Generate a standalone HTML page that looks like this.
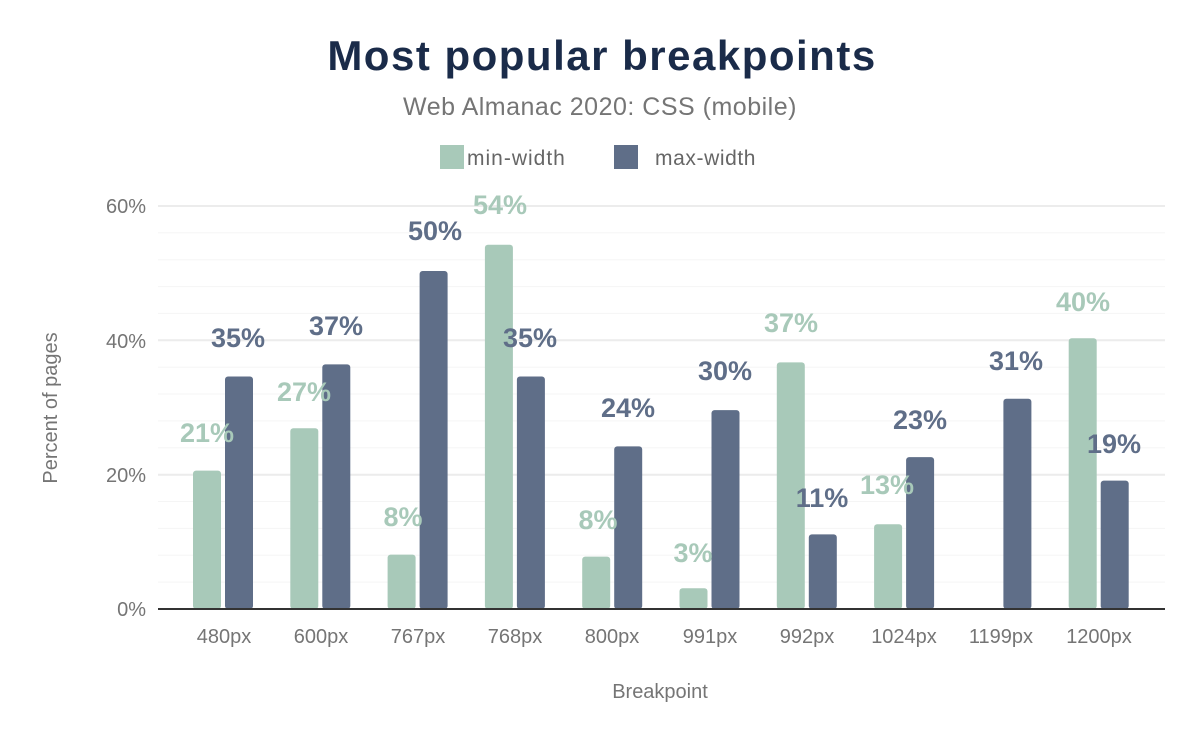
<!DOCTYPE html><html><head><style>body{margin:0;background:#fff}svg text{font-family:"Liberation Sans",sans-serif}</style></head><body>
<svg width="1200" height="742" xmlns="http://www.w3.org/2000/svg">
<text x="602" y="70" text-anchor="middle" font-size="42" font-weight="bold" fill="#1a2b49" letter-spacing="1.5">Most popular breakpoints</text>
<text x="600" y="115" text-anchor="middle" font-size="25" fill="#757575" letter-spacing="0.5">Web Almanac 2020: CSS (mobile)</text>
<rect x="440" y="145" width="24" height="24" fill="#a8c9b9"/><text x="467" y="165" font-size="21" fill="#666" letter-spacing="1">min-width</text>
<rect x="614" y="145" width="24" height="24" fill="#5f6e88"/><text x="655" y="165" font-size="21" fill="#666" letter-spacing="0.6">max-width</text>
<g stroke="#f5f5f5" stroke-width="1">
<line x1="158" x2="1165" y1="582.1" y2="582.1"/><line x1="158" x2="1165" y1="555.3" y2="555.3"/><line x1="158" x2="1165" y1="528.4" y2="528.4"/><line x1="158" x2="1165" y1="501.5" y2="501.5"/>
<line x1="158" x2="1165" y1="447.8" y2="447.8"/><line x1="158" x2="1165" y1="420.9" y2="420.9"/><line x1="158" x2="1165" y1="394" y2="394"/><line x1="158" x2="1165" y1="367.2" y2="367.2"/>
<line x1="158" x2="1165" y1="313.4" y2="313.4"/><line x1="158" x2="1165" y1="286.6" y2="286.6"/><line x1="158" x2="1165" y1="259.7" y2="259.7"/><line x1="158" x2="1165" y1="232.8" y2="232.8"/>
</g>
<g stroke="#ececec" stroke-width="2">
<line x1="158" x2="1165" y1="474.7" y2="474.7"/><line x1="158" x2="1165" y1="340.3" y2="340.3"/><line x1="158" x2="1165" y1="206" y2="206"/></g>
<g font-size="20" fill="#757575" text-anchor="end">
<text x="146" y="616">0%</text><text x="146" y="482">20%</text><text x="146" y="348">40%</text><text x="146" y="213">60%</text></g>
<text transform="translate(57 408) rotate(-90)" text-anchor="middle" font-size="20" fill="#757575">Percent of pages</text>
<text x="660" y="698" text-anchor="middle" font-size="20" fill="#757575">Breakpoint</text>
<g fill="#a8c9b9">
<rect x="193" y="470.6" width="28" height="138.4" rx="3"/>
<rect x="290.3" y="428.2" width="28" height="180.8" rx="3"/>
<rect x="387.6" y="554.6" width="28" height="54.4" rx="3"/>
<rect x="484.9" y="244.8" width="28" height="364.2" rx="3"/>
<rect x="582.2" y="556.6" width="28" height="52.4" rx="3"/>
<rect x="679.5" y="588.2" width="28" height="20.8" rx="3"/>
<rect x="776.8" y="362.4" width="28" height="246.6" rx="3"/>
<rect x="874.1" y="524.3" width="28" height="84.7" rx="3"/>
<rect x="1068.7" y="338.2" width="28" height="270.8" rx="3"/>
</g>
<g fill="#5f6e88">
<rect x="225" y="376.5" width="28" height="232.5" rx="3"/>
<rect x="322.3" y="364.4" width="28" height="244.6" rx="3"/>
<rect x="419.6" y="271" width="28" height="338" rx="3"/>
<rect x="516.9" y="376.5" width="28" height="232.5" rx="3"/>
<rect x="614.2" y="446.4" width="28" height="162.6" rx="3"/>
<rect x="711.5" y="410.1" width="28" height="198.9" rx="3"/>
<rect x="808.8" y="534.4" width="28" height="74.6" rx="3"/>
<rect x="906.1" y="457.1" width="28" height="151.9" rx="3"/>
<rect x="1003.4" y="398.7" width="28" height="210.3" rx="3"/>
<rect x="1100.7" y="480.6" width="28" height="128.4" rx="3"/>
</g>
<line x1="158" x2="1165" y1="609" y2="609" stroke="#333" stroke-width="2"/>
<g font-size="20" fill="#757575" text-anchor="middle">
<text x="224" y="643">480px</text><text x="321" y="643">600px</text><text x="418" y="643">767px</text><text x="515" y="643">768px</text><text x="612" y="643">800px</text><text x="710" y="643">991px</text><text x="807" y="643">992px</text><text x="904" y="643">1024px</text><text x="1001" y="643">1199px</text><text x="1099" y="643">1200px</text>
</g>
<g font-size="27" font-weight="bold" fill="#a8c9b9" text-anchor="middle">
<text x="207" y="442">21%</text><text x="304" y="401">27%</text><text x="403" y="526">8%</text><text x="500" y="214">54%</text><text x="598" y="529">8%</text><text x="693" y="562">3%</text><text x="791" y="332">37%</text><text x="887" y="494">13%</text><text x="1083" y="311">40%</text>
</g>
<g font-size="27" font-weight="bold" fill="#5f6e88" text-anchor="middle">
<text x="238" y="347">35%</text><text x="336" y="335">37%</text><text x="435" y="240">50%</text><text x="530" y="347">35%</text><text x="628" y="417">24%</text><text x="725" y="380">30%</text><text x="822" y="507">11%</text><text x="920" y="429">23%</text><text x="1016" y="370">31%</text><text x="1114" y="453">19%</text>
</g>
</svg></body></html>
